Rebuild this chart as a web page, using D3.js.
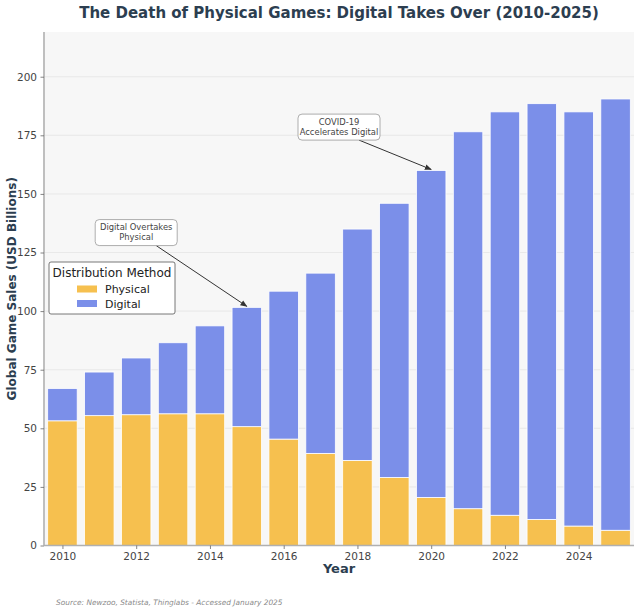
<!DOCTYPE html>
<html>
<head>
<meta charset="utf-8">
<script src="https://cdn.jsdelivr.net/npm/d3@7"></script>
<style>
  body { margin: 0; background: #fff; }
  svg { font-family: "DejaVu Sans", sans-serif; }
</style>
</head>
<body>
<div id="chart"></div>
<script>
const years = [2010, 2011, 2012, 2013, 2014, 2015, 2016, 2017, 2018, 2019, 2020, 2021, 2022, 2023, 2024, 2025];
const physical = [53.2, 55.4, 55.8, 56.2, 56.2, 50.7, 45.4, 39.3, 36.3, 29.0, 20.5, 15.7, 12.9, 11.1, 8.3, 6.5];
const digital = [13.8, 18.6, 24.2, 30.3, 37.5, 50.9, 63.1, 76.9, 98.7, 117.0, 139.5, 160.8, 172.1, 177.4, 176.7, 184.0];
const yTicks = [0, 25, 50, 75, 100, 125, 150, 175, 200];
const xTicks = [2010, 2012, 2014, 2016, 2018, 2020, 2022, 2024];
const seriesNames = ['Physical', 'Digital'];
const colors = { Physical: '#f6c04f', Digital: '#7b8fe9' };
const notes = [
  { lines: ['Digital Overtakes', 'Physical'], tx: 2012, ty: 133.5, year: 2015 },
  { lines: ['COVID-19', 'Accelerates Digital'], tx: 2017.5, ty: 178.5, year: 2020 }
];

const W = 640, H = 616;
const margin = { top: 32, right: 6, bottom: 70.5, left: 44 };
const width = W - margin.left - margin.right;
const height = H - margin.top - margin.bottom;

const svg = d3.select('#chart').append('svg')
  .attr('width', W).attr('height', H);

const g = svg.append('g')
  .attr('transform', `translate(${margin.left},${margin.top})`);

const totals = years.map((y, i) => physical[i] + digital[i]);

// continuous x so that half-year annotation positions work
const x = d3.scaleLinear()
  .domain([years[0] - 0.5, years[years.length - 1] + 0.5])
  .range([0, width]);
const step = x(1) - x(0);
const barW = step * 0.8;

const y = d3.scaleLinear()
  .domain([0, d3.max(totals) * 1.15])
  .range([height, 0]);

// Plot background
g.append('rect')
  .attr('width', width).attr('height', height)
  .attr('fill', '#f7f7f7');

// Grid
g.append('g')
  .selectAll('line')
  .data(yTicks)
  .join('line')
  .attr('x1', 0).attr('x2', width)
  .attr('y1', d => y(d)).attr('y2', d => y(d))
  .attr('stroke', '#e4e4e4')
  .attr('stroke-width', 0.8);

// Stacked bars
const rows = years.map((yr, i) => ({ year: yr, Physical: physical[i], Digital: digital[i] }));
const stack = d3.stack().keys(seriesNames)(rows);

g.append('g')
  .selectAll('g')
  .data(stack)
  .join('g')
  .attr('fill', d => colors[d.key])
  .selectAll('rect')
  .data(d => d)
  .join('rect')
  .attr('x', d => x(d.data.year) - barW / 2)
  .attr('width', barW)
  .attr('y', d => y(d[1]))
  .attr('height', d => y(d[0]) - y(d[1]))
  .attr('stroke', '#fff')
  .attr('stroke-width', 0.8);

// Axes
const xAxis = g.append('g')
  .attr('transform', `translate(0,${height})`)
  .call(d3.axisBottom(x).tickValues(xTicks).tickFormat(d3.format('d')).tickSize(3.5).tickPadding(3.5));
const yAxis = g.append('g')
  .call(d3.axisLeft(y).tickValues(yTicks).tickSize(3.5).tickPadding(3.5));

[xAxis, yAxis].forEach(a => {
  a.select('.domain').attr('stroke', '#b0b0b0').attr('stroke-width', 1.6);
  a.selectAll('.tick line').attr('stroke', '#666').attr('stroke-width', 0.8);
  a.selectAll('.tick text').attr('fill', '#444').attr('font-size', '10.5px')
    .attr('font-family', '"DejaVu Sans", sans-serif');
});
xAxis.select('.domain').attr('d', `M0,0H${width}`);
yAxis.select('.domain').attr('d', `M0,0V${height}`);

// Titles
svg.append('text')
  .attr('x', margin.left + width / 2).attr('y', 17.5)
  .attr('text-anchor', 'middle')
  .attr('font-size', '15px').attr('font-weight', 'bold')
  .attr('fill', '#2c3e50')
  .text('The Death of Physical Games: Digital Takes Over (2010-2025)');

svg.append('text')
  .attr('x', margin.left + width / 2).attr('y', 573)
  .attr('text-anchor', 'middle')
  .attr('font-size', '13px').attr('font-weight', 'bold')
  .attr('fill', '#2c3e50')
  .text('Year');

svg.append('text')
  .attr('transform', `translate(16,${margin.top + height / 2}) rotate(-90)`)
  .attr('text-anchor', 'middle')
  .attr('font-size', '12px').attr('font-weight', 'bold')
  .attr('fill', '#2c3e50')
  .text('Global Game Sales (USD Billions)');

svg.append('text')
  .attr('x', 56).attr('y', 605)
  .attr('font-size', '7.4px').attr('font-style', 'italic')
  .attr('fill', '#8a8a8a')
  .text('Source: Newzoo, Statista, Thinglabs - Accessed January 2025');

// Legend
const leg = g.append('g').attr('transform', 'translate(5,230)');
leg.append('rect')
  .attr('width', 126).attr('height', 52).attr('rx', 2)
  .attr('fill', '#fff').attr('stroke', '#555').attr('stroke-width', 0.8);
leg.append('text')
  .attr('x', 63).attr('y', 15)
  .attr('text-anchor', 'middle')
  .attr('font-size', '12px').attr('fill', '#222')
  .text('Distribution Method');
seriesNames.forEach((k, i) => {
  const yy = 27 + i * 14.5;
  leg.append('rect')
    .attr('x', 28).attr('y', yy - 3.5).attr('width', 20).attr('height', 7)
    .attr('fill', colors[k]);
  leg.append('text')
    .attr('x', 56).attr('y', yy + 4)
    .attr('font-size', '11px').attr('fill', '#222')
    .text(k);
});

// Annotations
svg.append('defs').append('marker')
  .attr('id', 'arrow')
  .attr('viewBox', '0 0 10 10')
  .attr('refX', 9).attr('refY', 5)
  .attr('markerWidth', 7).attr('markerHeight', 7)
  .attr('orient', 'auto-start-reverse')
  .append('path')
  .attr('d', 'M0,1 L10,5 L0,9 z')
  .attr('fill', '#333');

notes.forEach(n => {
  const i = years.indexOf(n.year);
  const cx = x(n.tx), cy = y(n.ty);
  const tipX = x(n.year), tipY = y(totals[i]) - 1;
  const boxW = 82, boxH = 26;
  g.append('line')
    .attr('x1', cx + 20).attr('y1', cy + boxH / 2)
    .attr('x2', tipX).attr('y2', tipY)
    .attr('stroke', '#333').attr('stroke-width', 1)
    .attr('marker-end', 'url(#arrow)');
  g.append('rect')
    .attr('x', cx - boxW / 2).attr('y', cy - boxH / 2)
    .attr('width', boxW).attr('height', boxH).attr('rx', 4)
    .attr('fill', '#fff').attr('stroke', '#999').attr('stroke-width', 0.8);
  n.lines.forEach((t, j) => {
    g.append('text')
      .attr('x', cx).attr('y', cy - 2.5 + j * 10)
      .attr('text-anchor', 'middle')
      .attr('font-size', '8.4px').attr('fill', '#444')
      .text(t);
  });
});
</script>
</body>
</html>
